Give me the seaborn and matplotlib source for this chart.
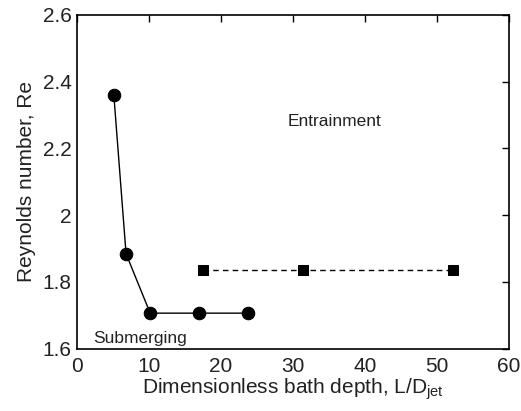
import matplotlib
matplotlib.use("Agg")
import matplotlib.pyplot as plt
import seaborn as sns
import pandas as pd

# Submerging / entrainment transition data
sub_depth = [5.1, 6.8, 10.15, 16.95, 23.75]
sub_re = [2.36, 1.884, 1.706, 1.706, 1.706]
ent_depth = [17.5, 31.4, 52.2]
ent_re = [1.834, 1.834, 1.834]

x_ticks = [0, 10, 20, 30, 40, 50, 60]
y_ticks = [1.6, 1.8, 2.0, 2.2, 2.4, 2.6]
y_tick_labels = ["1.6", "1.8", "2", "2.2", "2.4", "2.6"]

sns.set_style("white")
plt.rcParams["font.family"] = ["Liberation Sans", "DejaVu Sans"]
plt.rcParams["mathtext.fontset"] = "custom"
plt.rcParams["mathtext.rm"] = "Liberation Sans"

fig = plt.figure(figsize=(5.21, 4.11), dpi=100)
ax = fig.add_axes([0.148, 0.152, 0.829, 0.812])

sub_df = pd.DataFrame({"depth": sub_depth, "re": sub_re})
ent_df = pd.DataFrame({"depth": ent_depth, "re": ent_re})

sns.lineplot(data=sub_df, x="depth", y="re", ax=ax, color="black", lw=1.0,
             marker="o", markersize=9, markeredgecolor="black", sort=False)
sns.lineplot(data=ent_df, x="depth", y="re", ax=ax, color="black", lw=1.0,
             linestyle=(0, (4, 3)), marker="s", markersize=7,
             markeredgecolor="black", sort=False)

ax.set_xlim(0, 60)
ax.set_ylim(1.6, 2.6)
ax.set_xticks(x_ticks)
ax.set_yticks(y_ticks)
ax.set_yticklabels(y_tick_labels)
ax.tick_params(direction="in", top=True, right=True, length=5, width=1,
               labelsize=15, colors="black", labelcolor="#222222")
ax.tick_params(axis="x", pad=6)
ax.tick_params(axis="y", pad=4)
for s in ax.spines.values():
    s.set_linewidth(1.2)
    s.set_color("black")

ax.set_xlabel(r"Dimensionless bath depth, L/D$_{\mathrm{jet}}$", fontsize=15,
              labelpad=0, color="#222222")
ax.set_ylabel("Reynolds number, Re", fontsize=15, labelpad=5, color="#222222")

ax.text(35.8, 2.28, "Entrainment", fontsize=12.5, ha="center", va="center",
        color="#222222")
ax.text(8.8, 1.63, "Submerging", fontsize=12.5, ha="center", va="center",
        color="#222222")

fig.savefig("out.png", dpi=100)
